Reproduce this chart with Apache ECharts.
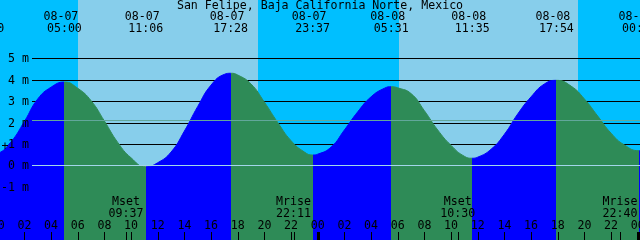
<!DOCTYPE html>
<html><head><meta charset="utf-8">
<script src="https://cdn.jsdelivr.net/npm/echarts@6/dist/echarts.min.js"></script>
<style>html,body{margin:0;padding:0;background:#fff}#c{width:640px;height:240px}</style>
</head><body><div id="c"></div>
<script>
// ---- data (hours counted from 08-07 00:00) ----
const title = 'San Felipe, Baja California Norte, Mexico';
const tideHours   = [-0.83, 0, 1, 2, 3, 4, 5.0, 6, 7, 8, 9, 10, 11.1, 12, 13, 14, 15, 16, 17, 17.467, 18, 19, 20, 21, 22, 23, 23.617, 24, 25, 26, 27, 28, 29, 29.517, 30, 31, 32, 33, 34, 35, 35.583, 36, 37, 38, 39, 40, 41, 41.9, 43, 44, 45, 46, 47, 48.13, 49];
const tideHeights = [0.45, 0.55, 1.1, 2.05, 3.1, 3.65, 3.89, 3.6, 3.02, 2.07, 1.07, 0.35, -0.07, 0.12, 0.62, 1.6, 2.75, 3.75, 4.25, 4.30, 4.22, 3.8, 2.95, 2.0, 1.15, 0.62, 0.48, 0.52, 0.85, 1.65, 2.5, 3.2, 3.6, 3.67, 3.62, 3.35, 2.55, 1.65, 0.93, 0.42, 0.33, 0.38, 0.75, 1.45, 2.4, 3.2, 3.8, 3.97, 3.7, 3.1, 2.3, 1.5, 0.95, 0.68, 0.8];
const extremeHours = [-0.83, 5.0, 11.1, 17.467, 23.617, 29.517, 35.583, 41.9, 48.13];
const extremeTypes = ['L', 'H', 'L', 'H', 'L', 'H', 'L', 'H', 'L'];
const extremeDates = ['08-06', '08-07', '08-07', '08-07', '08-07', '08-08', '08-08', '08-08', '08-09'];
const extremeTimes = ['23:10', '05:00', '11:06', '17:28', '23:37', '05:31', '11:35', '17:54', '00:08'];
const sunriseHours = [6.0, 30.1];
const sunsetHours  = [19.54, 43.5];
const moonHours = [9.617, 22.183, 34.5, 46.667];
const moonNames = ['Mset', 'Mrise', 'Mset', 'Mrise'];
const moonTimes = ['09:37', '22:11', '10:30', '22:40'];
const hourTicks  = [0, 2, 4, 6, 8, 10, 12, 14, 16, 18, 20, 22, 24, 26, 28, 30, 32, 34, 36, 38, 40, 42, 44, 46, 48];
const hourLabels = ['00','02','04','06','08','10','12','14','16','18','20','22','00','02','04','06','08','10','12','14','16','18','20','22','00'];
const midnightHours = [0, 24, 48];
const levelValues = [5, 4, 3, 2, 1, 0, -1];
const levelLabels = ['5 m', '4 m', '3 m', '2 m', '1 m', '0 m', '-1 m'];
const mslLevel = 2.11;
const datumLevel = 0;
const markerHour = 0.545;
const markerLevel = 0.84;

// ---- layout / style ----
const X_MIN = 0.17, X_MAX = 48.17;
const Y_MAX = 165.3 / 21.4, Y_MIN = -(240 - 165.3) / 21.4;
const FONT = '11.6px "DejaVu Sans Mono", "Liberation Mono", monospace';
const C = {night: '#00BFFF', day: '#87CEEB', rise: '#0000FF', fall: '#2E8B57',
           msl: '#62a79b', datum: '#a3d6ea', ink: '#000000'};

const tideData = tideHours.map((h, i) => [h, tideHeights[i]]);
const pieces = [];
pieces.push({lt: extremeHours[0], color: extremeTypes[0] === 'L' ? C.fall : C.rise});
for (let i = 0; i < extremeHours.length - 1; i++) {
  pieces.push({gte: extremeHours[i], lt: extremeHours[i + 1], color: extremeTypes[i] === 'L' ? C.rise : C.fall});
}
pieces.push({gte: extremeHours[extremeHours.length - 1], color: extremeTypes[extremeTypes.length - 1] === 'L' ? C.rise : C.fall});

function textSeries(hours, texts, yPx, dx, align) {
  return {
    type: 'custom', coordinateSystem: 'cartesian2d', silent: true, z: 10,
    data: hours.map(h => [h, 0]),
    renderItem: (params, api) => {
      const p = api.coord([api.value(0), 0]);
      return {type: 'text', style: {text: texts[params.dataIndex], x: p[0] + dx, y: yPx,
        font: FONT, fill: C.ink, align: align || 'center', verticalAlign: 'middle'}};
    }
  };
}

const series = [];
// day bands
series.push({
  type: 'custom', coordinateSystem: 'cartesian2d', silent: true, z: 1,
  data: sunriseHours.map((h, i) => [h, sunsetHours[i]]),
  renderItem: (params, api) => {
    const a = api.coord([api.value(0), Y_MAX]);
    const b = api.coord([api.value(1), Y_MIN]);
    const x0 = Math.round(a[0]), x1 = Math.round(b[0]);
    return {type: 'rect', shape: {x: x0, y: 0, width: x1 - x0, height: 240}, style: {fill: C.day}};
  }
});
// level lines
series.push({
  type: 'custom', coordinateSystem: 'cartesian2d', silent: true, z: 2,
  data: levelValues.map(v => [X_MAX, v]),
  renderItem: (params, api) => {
    const p = api.coord([api.value(0), api.value(1)]);
    const y = Math.round(p[1]) + 0.5;
    return {type: 'line', shape: {x1: 32, y1: y, x2: p[0], y2: y}, style: {stroke: C.ink, lineWidth: 1}};
  }
});
// tide
series.push({
  type: 'line', data: tideData, smooth: 0.5, symbol: 'none', z: 3, silent: true,
  lineStyle: {width: 1}, areaStyle: {opacity: 1, origin: 'start'}
});
// msl & datum lines
series.push({
  type: 'custom', coordinateSystem: 'cartesian2d', silent: true, z: 4,
  data: [[X_MAX, mslLevel, 0], [X_MAX, datumLevel, 1]],
  renderItem: (params, api) => {
    const p = api.coord([api.value(0), api.value(1)]);
    const y = Math.round(p[1]) + 0.5;
    return {type: 'line', shape: {x1: 32, y1: y, x2: p[0], y2: y},
      style: {stroke: api.value(2) === 0 ? C.msl : C.datum, lineWidth: 1}};
  }
});
// hour ticks, moon ticks, midnight ticks
function tickSeries(hours, width) {
  return {
    type: 'custom', coordinateSystem: 'cartesian2d', silent: true, z: 9,
    data: hours.map(h => [h, Y_MIN]),
    renderItem: (params, api) => {
      const p = api.coord([api.value(0), api.value(1)]);
      const x = Math.round(p[0]);
      return {type: 'rect', shape: {x: x - Math.floor(width / 2), y: 232, width: width, height: 8}, style: {fill: C.ink}};
    }
  };
}
series.push(tickSeries(hourTicks, 1));
series.push(tickSeries(moonHours, 1));
series.push(tickSeries(midnightHours, 3));
// level labels
series.push({
  type: 'custom', coordinateSystem: 'cartesian2d', silent: true, z: 10,
  data: levelValues.map(v => [X_MIN, v]),
  renderItem: (params, api) => {
    const p = api.coord([api.value(0), api.value(1)]);
    return {type: 'text', style: {text: levelLabels[params.dataIndex], x: 29, y: Math.round(p[1]) + 0.5,
      font: FONT, fill: C.ink, align: 'right', verticalAlign: 'middle'}};
  }
});
// marker '+'
series.push({
  type: 'custom', coordinateSystem: 'cartesian2d', silent: true, z: 11,
  data: [[markerHour, markerLevel]],
  renderItem: (params, api) => {
    const p = api.coord([api.value(0), api.value(1)]);
    return {type: 'text', style: {text: '+', x: p[0], y: p[1], font: FONT, fill: C.ink, align: 'center', verticalAlign: 'middle'}};
  }
});
// event labels
series.push(textSeries(extremeHours, extremeDates, 17, -3.5));
series.push(textSeries(extremeHours, extremeTimes, 29, 0));
series.push(textSeries(moonHours, moonNames, 202, 0));
series.push(textSeries(moonHours, moonTimes, 213.5, 0));
series.push(textSeries(hourTicks, hourLabels, 225.5, 0));

const chart = echarts.init(document.getElementById('c'), null, {renderer: 'canvas', width: 640, height: 240});
chart.setOption({
  backgroundColor: C.night,
  animation: false,
  title: {text: title, left: 'center', top: 0, padding: 0,
    textStyle: {fontFamily: '"DejaVu Sans Mono", "Liberation Mono", monospace', fontSize: 11.6, fontWeight: 'normal', color: C.ink, lineHeight: 12}},
  grid: {left: 0, right: 0, top: 0, bottom: 0},
  xAxis: {type: 'value', min: X_MIN, max: X_MAX, show: false},
  yAxis: {type: 'value', min: Y_MIN, max: Y_MAX, show: false},
  visualMap: {type: 'piecewise', show: false, dimension: 0, seriesIndex: 2, pieces: pieces},
  series: series
});
</script>
</body></html>
